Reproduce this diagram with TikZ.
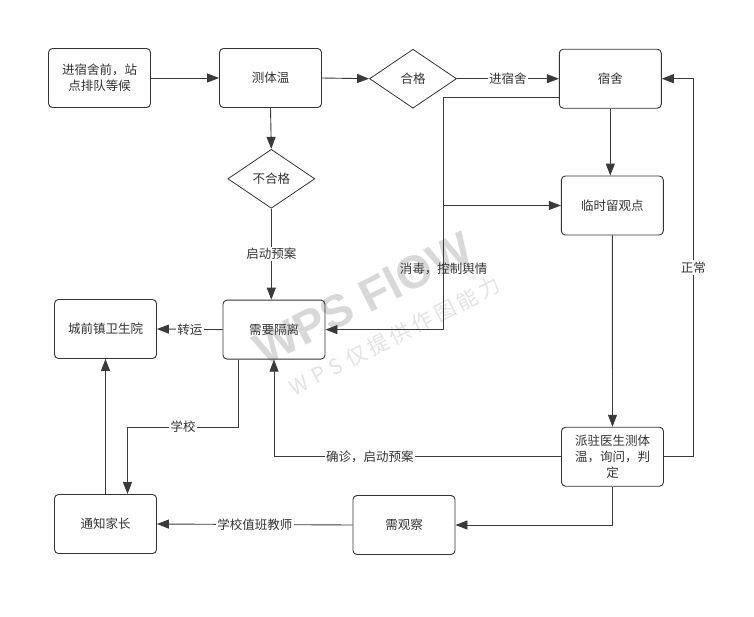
\documentclass[tikz,border=0pt]{standalone}
\usepackage{fontspec}
\newfontfamily\cjk{Noto Sans CJK SC}
\newfontfamily\wmfont{Liberation Sans}
\usetikzlibrary{arrows.meta,shapes.geometric,calc}
\definecolor{ink}{HTML}{333333}
\definecolor{wire}{HTML}{3A3A3A}
\definecolor{wmark}{HTML}{D8D8D8}
\definecolor{wmarklight}{HTML}{E3E3E3}

\begin{document}
\begin{tikzpicture}[x=1pt,y=-1pt,
  every node/.style={font=\cjk\fontsize{12.5}{16}\selectfont, text=ink},
  box/.style={draw=ink, line width=0.9pt, rounded corners=4pt,
    minimum width=102pt, minimum height=59pt, align=center, inner sep=0pt},
  gate/.style={diamond, draw=ink, line width=0.8pt, aspect=1.47,
    minimum width=87pt, minimum height=59pt, inner sep=0pt},
  wire/.style={draw=wire, line width=0.9pt},
  arrow/.style={wire, -{Triangle[length=12pt,width=9pt]}},
  lbl/.style={fill=white, inner sep=1.5pt},
  wmbig/.style={rotate=27, text=wmark, font=\wmfont\bfseries\fontsize{46}{50}\selectfont},
  wmsmall/.style={rotate=27, text=wmarklight, font=\cjk\fontsize{21}{24}\selectfont}]

\useasboundingbox (0,0) rectangle (754,616);
\fill[white] (0,0) rectangle (754,616);

% watermark
\node[wmbig] (wmtop) at (363,298) {WPS FlOW};
\node[wmsmall] (wmbottom) at (395,336) {W\kern6pt P\kern6pt S\kern6pt 仅\kern4pt 提\kern4pt 供\kern4pt 作\kern4pt 图\kern4pt 能\kern4pt 力};

% process steps
\node[box] (queue)  at (99.5,78)    {进宿舍前，站\\点排队等候};
\node[box] (temp)   at (270.5,78)   {测体温};
\node[gate] (pass)  at (413,78.7)   {合格};
\node[box] (dorm)   at (610.3,78.7) {宿舍};
\node[gate] (fail)  at (271.3,178.8) {不合格};
\node[box] (obs)    at (612.3,205.5) {临时留观点};
\node[box] (iso)    at (274,329.6)  {需要隔离};
\node[box] (clinic) at (105.5,329)  {城前镇卫生院};
\node[box] (doctor) at (612.5,456.7) {派驻医生测体\\温，询问，判\\定};
\node[box] (watch)  at (404,525)    {需观察};
\node[box] (parent) at (105.5,524)  {通知家长};

% main flow
\draw[arrow] (queue.east) -- (temp.west);
\draw[arrow] (temp.east) -- (pass.west);
\draw[arrow] (pass.east) -- node[lbl] {进宿舍} (dorm.west);
\draw[arrow] (temp.south) -- (fail.north);
\draw[arrow] (fail.south) -- node[lbl] {启动预案} (fail.south |- iso.north);
\draw[arrow] (dorm.south) -- (dorm.south |- obs.north);
\draw[arrow] (obs.south) -- (doctor.north);

% disinfection trunk from the dormitory
\coordinate (trunkstart) at ($(dorm.west)+(0,18.6)$);
\coordinate (trunk) at (443.3,0);
\draw[arrow] (trunkstart) -- (trunkstart -| trunk) |- (iso.east);
\draw[arrow] (trunk |- obs.west) -- (obs.west);
\node (disinfect) at (443.5,269) {消毒，控制舆情};

% isolation branch
\draw[arrow] (iso.west) -- node[lbl] {转运} (clinic.east);
\coordinate (schoolout) at ($(iso.south west)+(16,0)$);
\coordinate (schoolin) at ($(parent.north)+(22,0)$);
\draw[arrow] (schoolout) -- ($(schoolout)+(0,67.4)$) -| node[lbl,pos=0.25] {学校} (schoolin);
\draw[arrow] (parent.north) -- (clinic.south);

% doctor's decisions
\draw[arrow] (doctor.west) -| node[lbl,pos=0.333] {确诊，启动预案} (iso.south);
\draw[arrow] (doctor.south) |- (watch.east);
\draw[arrow] (watch.west) -- node[lbl] {学校值班教师} (parent.east);
\coordinate (rightrail) at (693.3,0);
\draw[arrow] (doctor.east) -- (doctor.east -| rightrail) |- node[lbl,pos=0.25] {正常} (dorm.east);

\end{tikzpicture}
\end{document}
